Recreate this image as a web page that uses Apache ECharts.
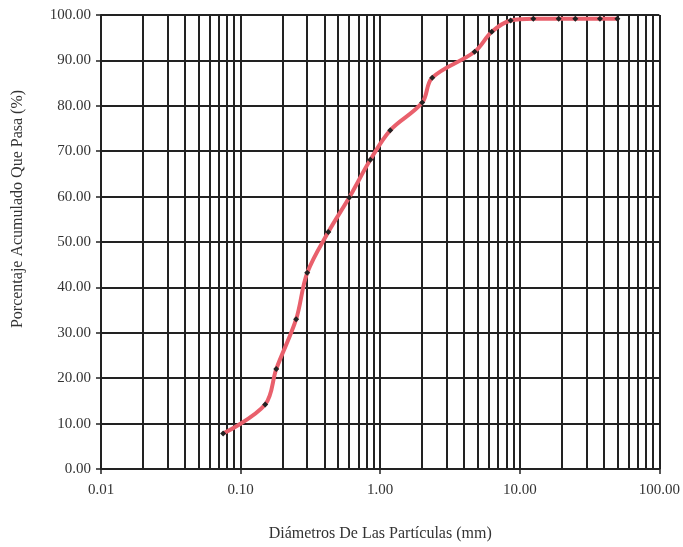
<!DOCTYPE html>
<html>
<head>
<meta charset="utf-8">
<script src="https://cdn.jsdelivr.net/npm/echarts@6/dist/echarts.min.js"></script>
<style>html,body{margin:0;padding:0;background:#fff;}#c{width:683px;height:547px;}</style>
</head>
<body>
<div id="c"></div>
<script>
// Particle diameters (mm) and cumulative percent passing
const diameters = [0.075, 0.15, 0.18, 0.25, 0.30, 0.425, 0.60, 0.85, 1.18, 2.00, 2.36, 4.75, 6.30, 8.6, 12.5, 19.0, 25.0, 37.5, 50.0];
const passing   = [7.8, 14.2, 22.0, 33.0, 43.2, 52.2, 59.8, 68.1, 74.6, 80.7, 86.2, 91.9, 96.3, 98.8, 99.2, 99.2, 99.2, 99.2, 99.2];
// Minor (2..9 per decade) vertical grid values
const minorGrid = [];
[0.01, 0.1, 1, 10].forEach(function (d) { for (let k = 2; k <= 9; k++) minorGrid.push(+(d * k).toPrecision(3)); });
const xTitle = 'Diámetros De Las Partículas (mm)';
const yTitle = 'Porcentaje Acumulado Que Pasa (%)';

const font = 'Liberation Serif';
const gridColor = '#222';
const chart = echarts.init(document.getElementById('c'));
chart.setOption({
  animation: false,
  backgroundColor: '#fff',
  grid: { left: 101, right: 22, top: 15, bottom: 76 },
  xAxis: {
    type: 'log', logBase: 10, min: 0.01, max: 100,
    name: xTitle, nameLocation: 'middle', nameGap: 57,
    nameTextStyle: { fontFamily: font, fontSize: 16, color: '#333' },
    axisLine: { show: true, lineStyle: { color: gridColor, width: 2 } },
    axisTick: { show: true, length: 5, lineStyle: { color: gridColor, width: 1.5 } },
    axisLabel: { fontFamily: font, fontSize: 15, color: '#333', margin: 14,
      formatter: function (v) { return Number(v).toFixed(2); } },
    splitLine: { show: true, lineStyle: { color: gridColor, width: 2 } }
  },
  yAxis: {
    type: 'value', min: 0, max: 100, interval: 10,
    axisLine: { show: true, lineStyle: { color: gridColor, width: 2 } },
    axisTick: { show: true, length: 5, lineStyle: { color: gridColor, width: 1.5 } },
    axisLabel: { fontFamily: font, fontSize: 15, color: '#333', margin: 10,
      formatter: function (v) { return Number(v).toFixed(2); } },
    splitLine: { show: true, lineStyle: { color: gridColor, width: 2 } }
  },
  graphic: [{
    type: 'text', x: 18, y: 209, rotation: Math.PI / 2,
    style: { text: yTitle, fontFamily: font, fontSize: 16, fill: '#333', align: 'center', verticalAlign: 'middle' }
  }],
  series: [{
    type: 'line',
    data: diameters.map(function (d, i) { return [d, passing[i]]; }),
    smooth: 0.35,
    symbol: 'diamond', symbolSize: 6,
    itemStyle: { color: '#222' },
    lineStyle: { color: '#e9606c', width: 4 },
    z: 5,
    markLine: {
      silent: true, symbol: 'none', animation: false,
      label: { show: false },
      lineStyle: { color: gridColor, width: 2, type: 'solid' },
      data: minorGrid.map(function (v) { return { xAxis: v }; }),
      z: 1
    }
  }]
});
</script>
</body>
</html>
